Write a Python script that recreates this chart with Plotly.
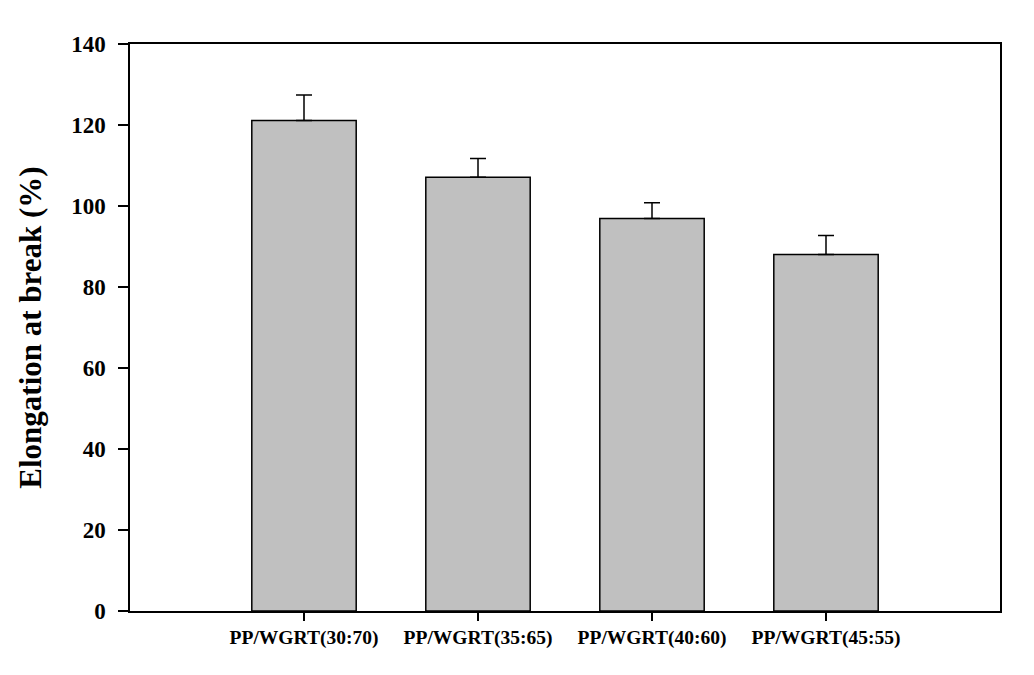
import plotly.graph_objects as go

categories = ["PP/WGRT(30:70)", "PP/WGRT(35:65)", "PP/WGRT(40:60)", "PP/WGRT(45:55)"]
elongation = [121.1, 107.1, 96.9, 88.0]
errors = [6.3, 4.6, 3.9, 4.7]
y_ticks = [0, 20, 40, 60, 80, 100, 120, 140]

x_pos = list(range(len(categories)))

fig = go.Figure()
fig.add_trace(go.Bar(
    x=x_pos, y=elongation, width=0.6,
    marker=dict(color="#c0c0c0", line=dict(color="black", width=1.5)),
    error_y=dict(type="data", array=errors, arrayminus=[0]*len(errors), symmetric=False,
                 color="black", thickness=1.5, width=8),
    showlegend=False,
))

font_family = "Liberation Serif"
fig.update_layout(
    width=1034, height=675,
    margin=dict(l=130, r=34, t=44, b=64),
    plot_bgcolor="white", paper_bgcolor="white",
    font=dict(family=font_family, color="black"),
    xaxis=dict(
        range=[-1, 4], tickmode="array", tickvals=x_pos, ticktext=[f"<b>{c}</b>" for c in categories],
        showline=True, linecolor="black", linewidth=1.5, mirror=True,
        ticks="outside", ticklen=8, tickwidth=1.5, tickcolor="black",
        tickfont=dict(family=font_family, size=19.5, color="black"),
        showgrid=False, zeroline=False,
    ),
    yaxis=dict(
        range=[0, 140], tickmode="array", tickvals=y_ticks, ticktext=[f"<b>{t}</b>" for t in y_ticks],
        showline=True, linecolor="black", linewidth=1.5, mirror=True,
        ticks="outside", ticklen=10, tickwidth=1.5, tickcolor="black",
        ticklabelstandoff=8,
        tickfont=dict(family=font_family, size=23, color="black"),
        showgrid=False, zeroline=False,
        title=dict(text="<b>Elongation at break (%)</b>", font=dict(family=font_family, size=31, color="black"), standoff=20),
    ),
)

fig.write_html("out.html")
